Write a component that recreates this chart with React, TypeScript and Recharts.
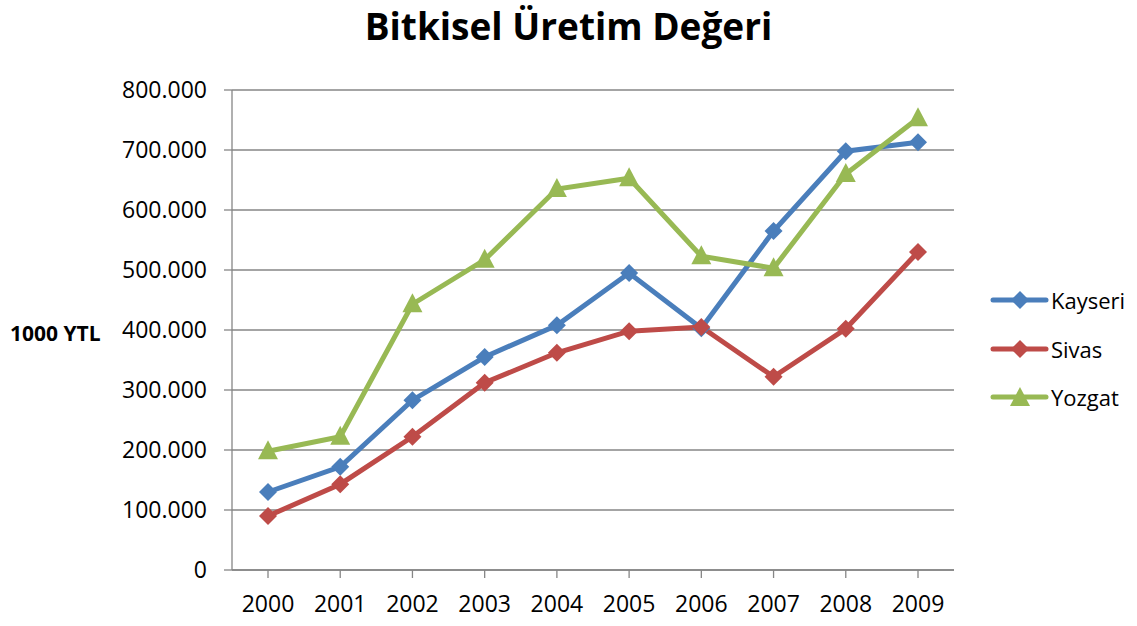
import React from 'react';
import { LineChart, Line, XAxis, YAxis, CartesianGrid } from 'recharts';

const years = ['2000', '2001', '2002', '2003', '2004', '2005', '2006', '2007', '2008', '2009'];
const kayseri = [130000, 172000, 283000, 355000, 408000, 495000, 403000, 565000, 698000, 713000];
const sivas = [90000, 143000, 222000, 312000, 362000, 398000, 405000, 322000, 402000, 530000];
const yozgat = [198000, 222000, 443000, 517000, 635000, 653000, 523000, 503000, 660000, 753000];
const yTicks = [0, 100000, 200000, 300000, 400000, 500000, 600000, 700000, 800000];

const data = years.map((y, i) => ({ year: y, Kayseri: kayseri[i], Sivas: sivas[i], Yozgat: yozgat[i] }));

const BLUE = '#4A7EBB';
const RED = '#BE4B48';
const GREEN = '#98B954';
const AXIS = '#868686';
const FONT = '"Open Sans", sans-serif';

const fmt = (v: number) => (v === 0 ? '0' : `${Math.round(v / 1000)}.000`);

const Diamond = (color: string) => (props: any) => {
  const { cx, cy } = props;
  if (cx == null || cy == null) return null;
  const r = 9;
  return <path d={`M${cx},${cy - r}L${cx + r},${cy}L${cx},${cy + r}L${cx - r},${cy}Z`} fill={color} />;
};
const Triangle = (color: string) => (props: any) => {
  const { cx, cy } = props;
  if (cx == null || cy == null) return null;
  return <path d={`M${cx},${cy - 11}L${cx + 10},${cy + 8}L${cx - 10},${cy + 8}Z`} fill={color} />;
};

const series = [
  { key: 'Kayseri', color: BLUE, shape: 'diamond' },
  { key: 'Sivas', color: RED, shape: 'diamond' },
  { key: 'Yozgat', color: GREEN, shape: 'triangle' },
];

const LegendBox = () => (
  <div style={{ position: 'absolute', left: 989, top: 276, fontFamily: FONT, fontSize: 22 }}>
    {series.map((s) => (
      <div key={s.key} style={{ display: 'flex', alignItems: 'center', height: 48.5 }}>
        <svg width={60} height={24} style={{ display: 'block' }}>
          <line x1={4} y1={12} x2={57} y2={12} stroke={s.color} strokeWidth={5} strokeLinecap="round" />
          {s.shape === 'diamond' ? (
            <path d="M31,3L40,12L31,21L22,12Z" fill={s.color} />
          ) : (
            <path d="M31,2L41,21L21,21Z" fill={s.color} />
          )}
        </svg>
        <span style={{ marginLeft: 2, color: '#000', lineHeight: 1 }}>{s.key}</span>
      </div>
    ))}
  </div>
);

export default function App() {
  return (
    <div style={{ position: 'absolute', left: 0, top: 0, width: 1137, height: 626, background: '#fff' }}>
      <div
        style={{
          position: 'absolute',
          left: 0,
          width: 1137,
          top: 0,
          textAlign: 'center',
          fontFamily: FONT,
          fontWeight: 700,
          fontSize: 37,
          color: '#000',
          whiteSpace: 'nowrap',
        }}
      >
        Bitkisel Üretim Değeri
      </div>
      <div
        style={{
          position: 'absolute',
          left: 10,
          top: 319,
          fontFamily: FONT,
          fontWeight: 700,
          fontSize: 21,
          color: '#000',
          whiteSpace: 'nowrap',
        }}
      >
        1000 YTL
      </div>
      <div style={{ position: 'absolute', left: 0, top: 0 }}>
        <LineChart
          width={1137}
          height={626}
          data={data}
          margin={{ top: 90, right: 183, left: 0, bottom: 16 }}
        >
          <CartesianGrid vertical={false} stroke={AXIS} strokeWidth={1.3} />
          <XAxis
            dataKey="year"
            padding={{ left: 36, right: 36 }}
            height={40}
            stroke={AXIS}
            strokeWidth={1.3}
            tickSize={8}
            tickMargin={18}
            tick={{ fill: '#000', fontFamily: FONT, fontSize: 23 }}
            interval={0}
          />
          <YAxis
            width={232}
            domain={[0, 800000]}
            ticks={yTicks}
            tickFormatter={fmt}
            stroke={AXIS}
            strokeWidth={1.3}
            tickSize={8}
            tickMargin={17}
            tick={{ fill: '#000', fontFamily: FONT, fontSize: 23 }}
            interval={0}
          />
          <Line
            dataKey="Kayseri"
            stroke={BLUE}
            strokeWidth={5}
            dot={Diamond(BLUE)}
            activeDot={false}
            isAnimationActive={false}
          />
          <Line
            dataKey="Sivas"
            stroke={RED}
            strokeWidth={5}
            dot={Diamond(RED)}
            activeDot={false}
            isAnimationActive={false}
          />
          <Line
            dataKey="Yozgat"
            stroke={GREEN}
            strokeWidth={5}
            dot={Triangle(GREEN)}
            activeDot={false}
            isAnimationActive={false}
          />
        </LineChart>
      </div>
      <LegendBox />
    </div>
  );
}
